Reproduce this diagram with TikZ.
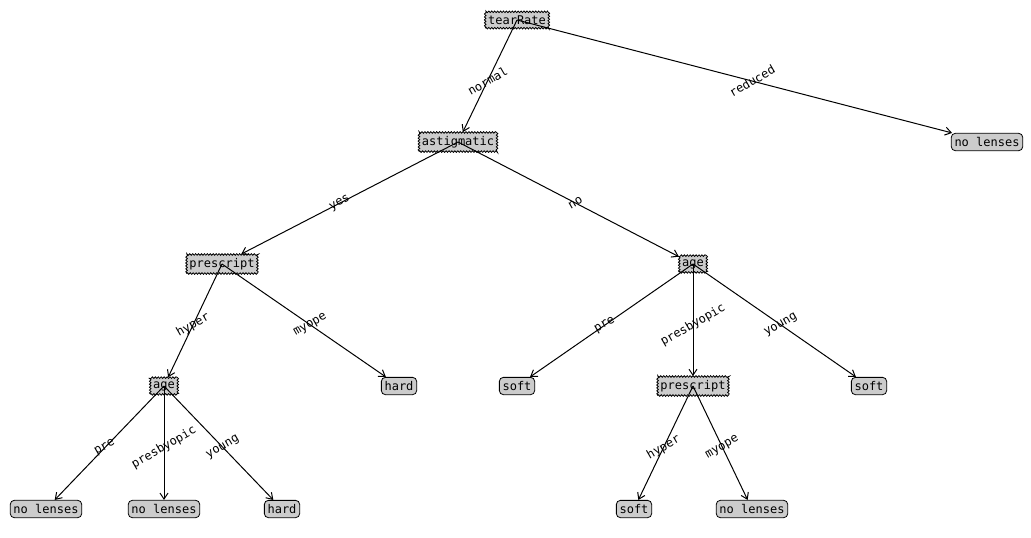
\documentclass[tikz,border=0pt]{standalone}
\usepackage{fontspec}
\setmainfont{DejaVu Sans}
\setmonofont{DejaVu Sans Mono}
\usetikzlibrary{arrows.meta,decorations,decorations.pathmorphing}

\begin{document}
\begin{tikzpicture}[
  x=0.75pt,
  y=-0.75pt,
]

  \tikzstyle{decnode}=[draw,rectangle,fill=black!20,line width=0.6pt,inner xsep=2.2pt,inner ysep=2.8pt,font=\ttfamily\fontsize{9}{10}\selectfont,decorate,decoration={zigzag,segment length=2.2pt,amplitude=0.6pt}]
  \tikzstyle{leafnode}=[draw,rectangle,rounded corners=3pt,fill=black!20,line width=0.6pt,inner xsep=2.4pt,inner ysep=3pt,font=\ttfamily\fontsize{9}{10}\selectfont]

  \tikzstyle{pointer}=[draw,->,>={Straight Barb[length=4.5pt,width=6pt]},line width=0.75pt]
  \tikzstyle{edgelab}=[rotate=30,inner sep=0pt,font=\ttfamily\fontsize{9}{10}\selectfont]

  \useasboundingbox (0,0) rectangle (1031,537);

  % nodes
  \node[decnode]  (tear)    at (517,20)  {tearRate};
  \node[decnode]  (astig)   at (458,142) {astigmatic};
  \node[leafnode] (nolensA) at (987,142) {no lenses};

  \node[decnode]  (prescA)  at (222,264) {prescript};
  \node[decnode]  (ageB)    at (693,264) {age};

  \node[decnode]  (ageA)    at (164,386) {age};
  \node[leafnode] (hardA)   at (399,386) {hard};
  \node[leafnode] (softA)   at (517,386) {soft};
  \node[decnode]  (prescB)  at (693,386) {prescript};
  \node[leafnode] (softB)   at (869,386) {soft};

  \node[leafnode] (nolensB) at (46,509)  {no lenses};
  \node[leafnode] (nolensC) at (164,509) {no lenses};
  \node[leafnode] (hardB)   at (282,509) {hard};
  \node[leafnode] (softC)   at (634,509) {soft};
  \node[leafnode] (nolensD) at (752,509) {no lenses};

  % pointers
  \draw[pointer] (tear.center)   -- (astig);
  \draw[pointer] (tear.center)   -- (nolensA);
  \draw[pointer] (astig.center)  -- (prescA);
  \draw[pointer] (astig.center)  -- (ageB);
  \draw[pointer] (prescA.center) -- (ageA);
  \draw[pointer] (prescA.center) -- (hardA);
  \draw[pointer] (ageB.center)   -- (softA);
  \draw[pointer] (ageB.center)   -- (prescB);
  \draw[pointer] (ageB.center)   -- (softB);
  \draw[pointer] (ageA.center)   -- (nolensB);
  \draw[pointer] (ageA.center)   -- (nolensC);
  \draw[pointer] (ageA.center)   -- (hardB);
  \draw[pointer] (prescB.center) -- (softC);
  \draw[pointer] (prescB.center) -- (nolensD);

  % labels
  \path (tear.center)   -- node[edgelab] {normal}     (astig.center);
  \path (tear.center)   -- node[edgelab] {reduced}    (nolensA.center);
  \path (astig.center)  -- node[edgelab] {yes}        (prescA.center);
  \path (astig.center)  -- node[edgelab] {no}         (ageB.center);
  \path (prescA.center) -- node[edgelab] {hyper}      (ageA.center);
  \path (prescA.center) -- node[edgelab] {myope}      (hardA.center);
  \path (ageB.center)   -- node[edgelab] {pre}        (softA.center);
  \path (ageB.center)   -- node[edgelab] {presbyopic} (prescB.center);
  \path (ageB.center)   -- node[edgelab] {young}      (softB.center);
  \path (ageA.center)   -- node[edgelab] {pre}        (nolensB.center);
  \path (ageA.center)   -- node[edgelab] {presbyopic} (nolensC.center);
  \path (ageA.center)   -- node[edgelab] {young}      (hardB.center);
  \path (prescB.center) -- node[edgelab] {hyper}      (softC.center);
  \path (prescB.center) -- node[edgelab] {myope}      (nolensD.center);

\end{tikzpicture}
\end{document}
